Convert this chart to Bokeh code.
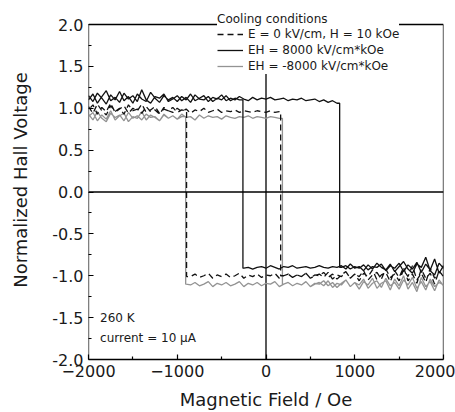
from bokeh.plotting import figure
from bokeh.models import (Range1d, FixedTicker, Span, Legend, LegendItem,
                          Label, PrintfTickFormatter)
from bokeh.embed import file_html
from bokeh.resources import INLINE

# ---------------- data ----------------
field = list(range(-2000, 2001, 50))  # Oe, 81 points

# EH = 8000 kV/cm*kOe (black solid)
ehp_hc_down = 830
ehp_hc_up = -260
ehp_fwd_upper = [1.15, 1.08, 1.18, 1.12, 1.05, 1.16, 1.10, 1.20, 1.09, 1.14,
                 1.06, 1.17, 1.11, 1.08, 1.19, 1.12, 1.07, 1.15, 1.10, 1.13,
                 1.08, 1.14, 1.10, 1.17, 1.09, 1.12, 1.15, 1.08, 1.13, 1.11,
                 1.16, 1.09, 1.12, 1.10, 1.14, 1.11, 1.09, 1.13, 1.10, 1.12,
                 1.11, 1.13, 1.10, 1.11, 1.12, 1.09, 1.11, 1.10, 1.12, 1.09,
                 1.10, 1.11, 1.08, 1.10, 1.07, 1.09, 1.06]
ehp_fwd_lower = [-0.90, -0.88, -0.92, -0.89, -0.91, -0.87, -0.93, -0.89, -0.90, -0.86,
                 -0.94, -0.88, -0.91, -0.85, -0.95, -0.87, -0.92, -0.84, -0.96, -0.86,
                 -0.93, -0.80, -0.97, -0.88]
ehp_bwd_upper = [1.10, 1.17, 1.06, 1.14, 1.21, 1.09, 1.13, 1.07, 1.18, 1.11,
                 1.15, 1.08, 1.22, 1.10, 1.06, 1.14, 1.12, 1.17, 1.08, 1.11,
                 1.15, 1.09, 1.13, 1.07, 1.16, 1.11, 1.10, 1.14, 1.08, 1.12,
                 1.10, 1.15, 1.09, 1.12, 1.10]
ehp_bwd_lower = [-0.91, -0.90, -0.92, -0.90, -0.89, -0.91, -0.88, -0.90, -0.92, -0.89,
                 -0.90, -0.88, -0.91, -0.90, -0.89, -0.91, -0.90, -0.88, -0.90, -0.91,
                 -0.89, -0.90,
                 -0.88, -0.92, -0.86, -0.91, -0.89, -0.94, -0.87, -0.92, -0.85, -0.90,
                 -0.93, -0.86, -0.95, -0.89, -0.83, -0.92, -0.97, -0.86, -0.90, -0.78,
                 -0.94, -0.99, -0.85, -0.91]

# E = 0 kV/cm, H = 10 kOe (black dashed)
e0_hc_down = 165
e0_hc_up = -895
e0_fwd_upper = [1.02, 0.94, 1.05, 0.97, 0.92, 1.03, 0.96, 1.00, 0.93, 1.04,
                0.97, 0.99, 0.94, 1.02, 0.96, 0.98, 0.93, 1.01, 0.97, 0.95,
                1.00, 0.96, 0.99, 0.94, 0.98, 0.96, 1.00, 0.95, 0.97, 0.99,
                0.95, 0.97, 0.96, 0.98, 0.95, 0.97, 0.96, 0.95, 0.97, 0.96,
                0.95, 0.97, 0.95, 0.96]
e0_fwd_lower = [-1.00, -0.98, -1.02, -0.99, -1.01, -0.97, -1.03, -0.99, -1.00, -0.96,
                -1.02, -0.98, -1.04, -0.99, -0.95, -1.03, -0.98, -1.01, -0.94, -1.05,
                -0.99, -0.96, -1.04, -0.92, -1.02, -0.98, -1.06, -0.93, -1.01, -0.88,
                -1.05, -0.97, -1.08, -0.91, -1.03, -0.95, -1.00]
e0_bwd_upper = [0.98, 1.04, 0.93, 1.01, 0.96, 1.06, 0.95, 0.99, 1.03, 0.94,
                1.00, 0.97, 1.05, 0.95, 0.98, 1.02, 0.94, 0.99, 0.97, 1.01,
                0.95, 0.98, 0.97]
e0_bwd_lower = [-1.01, -0.98, -1.02, -1.00, -0.97, -1.03, -0.99, -1.01, -0.98, -1.02,
                -1.00, -0.97, -1.03, -0.99, -1.01, -0.98, -1.02, -0.99, -1.00, -0.97,
                -1.03, -1.00, -0.98, -1.02, -0.99, -1.01, -0.97, -1.03, -1.00, -0.98,
                -1.02, -0.96, -1.04, -0.99, -1.01, -0.95, -1.03, -0.98, -1.06, -0.97,
                -1.01, -0.93, -1.05, -0.99, -0.96, -1.07, -0.94, -1.02, -0.90, -1.06,
                -0.98, -1.09, -0.92, -1.03, -0.97, -1.10, -0.94, -1.01]

# EH = -8000 kV/cm*kOe (grey)
ehn_hc_down = 185
ehn_hc_up = -905
ehn_fwd_upper = [0.93, 0.86, 0.96, 0.88, 0.84, 0.94, 0.89, 0.92, 0.85, 0.95,
                 0.88, 0.91, 0.86, 0.93, 0.89, 0.90, 0.85, 0.92, 0.88, 0.91,
                 0.87, 0.93, 0.89, 0.90, 0.86, 0.92, 0.88, 0.91, 0.89, 0.90,
                 0.87, 0.91, 0.89, 0.88, 0.90, 0.89, 0.91, 0.88, 0.90, 0.89,
                 0.88, 0.90, 0.89, 0.88]
ehn_fwd_lower = [-1.10, -1.08, -1.12, -1.09, -1.11, -1.07, -1.13, -1.09, -1.10, -1.06,
                 -1.12, -1.08, -1.14, -1.09, -1.05, -1.13, -1.08, -1.11, -1.04, -1.15,
                 -1.09, -1.06, -1.14, -1.03, -1.12, -1.08, -1.16, -1.05, -1.11, -1.02,
                 -1.15, -1.07, -1.17, -1.04, -1.13, -1.08, -1.11]
ehn_bwd_upper = [0.90, 0.95, 0.85, 0.92, 0.87, 0.97, 0.86, 0.91, 0.94, 0.84,
                 0.90, 0.88, 0.96, 0.86, 0.92, 0.89, 0.85, 0.93, 0.88, 0.91,
                 0.87, 0.90]
ehn_bwd_lower = [-1.10, -1.11, -1.08, -1.12, -1.10, -1.07, -1.13, -1.09, -1.11, -1.08,
                 -1.12, -1.10, -1.07, -1.13, -1.09, -1.11, -1.08, -1.12, -1.09, -1.10,
                 -1.07, -1.13, -1.10, -1.08, -1.12, -1.09, -1.11, -1.07, -1.13, -1.10,
                 -1.08, -1.12, -1.06, -1.14, -1.09, -1.11, -1.05, -1.13, -1.08, -1.16,
                 -1.07, -1.11, -1.03, -1.15, -1.09, -1.06, -1.17, -1.04, -1.12, -1.00,
                 -1.16, -1.08, -1.19, -1.02, -1.13, -1.07, -1.18, -1.05, -1.12]

series_labels = ["E = 0 kV/cm, H = 10 kOe", "EH = 8000 kV/cm*kOe", "EH = -8000 kV/cm*kOe"]
x_ticks = [-2000, -1000, 0, 1000, 2000]
x_minor_ticks = [-1500, -500, 500, 1500]
y_ticks = [-2.0, -1.5, -1.0, -0.5, 0.0, 0.5, 1.0, 1.5, 2.0]
y_minor_ticks = [-1.75, -1.25, -0.75, -0.25, 0.25, 0.75, 1.25, 1.75]
X_MIN, X_MAX = -2000, 2000
Y_MIN, Y_MAX = -2.0, 2.0


def loop(fwd, bwd, hc_down, hc_up):
    """Forward sweep (-H -> +H) then backward sweep (+H -> -H), with vertical switching steps."""
    xs, ys = [], []
    n = len(field)
    for i in range(n):
        if i > 0 and field[i - 1] < hc_down <= field[i]:
            xs += [hc_down, hc_down]
            ys += [fwd[i - 1], fwd[i]]
        xs.append(field[i])
        ys.append(fwd[i])
    for i in range(n - 1, -1, -1):
        if i < n - 1 and field[i] < hc_up <= field[i + 1]:
            xs += [hc_up, hc_up]
            ys += [bwd[i + 1], bwd[i]]
        xs.append(field[i])
        ys.append(bwd[i])
    return xs, ys


ehp_x, ehp_y = loop(ehp_fwd_upper + ehp_fwd_lower, ehp_bwd_upper + ehp_bwd_lower, ehp_hc_down, ehp_hc_up)
e0_x, e0_y = loop(e0_fwd_upper + e0_fwd_lower, e0_bwd_upper + e0_bwd_lower, e0_hc_down, e0_hc_up)
ehn_x, ehn_y = loop(ehn_fwd_upper + ehn_fwd_lower, ehn_bwd_upper + ehn_bwd_lower, ehn_hc_down, ehn_hc_up)

# ---------------- figure ----------------
FONT = "DejaVu Sans"
TXT = "#1a1a1a"
FRAME_W = 1.3

# Frame extends a little above y=2.0 (room for the legend, which overlaps the top border)
TOP_PX = 24.0          # pixels between canvas top and the y=2.0 line
PLOT_H_PX = 335.0      # pixels between y=-2 and y=2
y_top = Y_MAX + (Y_MAX - Y_MIN) * TOP_PX / PLOT_H_PX

p = figure(width=455, height=412, output_backend="svg", toolbar_location=None,
           x_range=Range1d(X_MIN, X_MAX), y_range=Range1d(Y_MIN, y_top),
           min_border_left=88, min_border_right=12, min_border_top=0, min_border_bottom=53)
p.background_fill_color = "white"
p.border_fill_color = "white"
p.outline_line_color = None
p.xgrid.visible = False
p.ygrid.visible = False

p.xaxis.ticker = FixedTicker(ticks=x_ticks, minor_ticks=x_minor_ticks)
p.yaxis.ticker = FixedTicker(ticks=y_ticks, minor_ticks=y_minor_ticks)
p.yaxis.formatter = PrintfTickFormatter(format="%.1f")
for ax in (p.xaxis[0], p.yaxis[0]):
    ax.axis_line_color = "black"
    ax.axis_line_width = FRAME_W
    ax.major_tick_in = 5
    ax.major_tick_out = 0
    ax.minor_tick_in = 3
    ax.minor_tick_out = 0
    ax.major_tick_line_color = "black"
    ax.minor_tick_line_color = "black"
    ax.major_tick_line_width = 1.2
    ax.minor_tick_line_width = 1.2
    ax.major_label_text_font = FONT
    ax.major_label_text_font_size = "16px"
    ax.major_label_text_color = TXT
    ax.major_label_standoff = 5
    ax.axis_label_text_font = FONT
    ax.axis_label_text_font_size = "18px"
    ax.axis_label_text_font_style = "normal"
    ax.axis_label_text_color = TXT
p.yaxis.axis_line_color = None   # drawn below so it stops at y=2.0
p.xaxis.axis_label = "Magnetic Field / Oe"
p.yaxis.axis_label = "Normalized Hall Voltage"
p.xaxis.axis_label_standoff = 9
p.yaxis.axis_label_standoff = 18

# frame borders (left, right), the x=0 axis line, top border and y=0 line
p.segment(x0=[X_MIN, X_MAX, 0], y0=[Y_MIN, Y_MIN, Y_MIN], x1=[X_MIN, X_MAX, 0], y1=[Y_MAX, Y_MAX, Y_MAX],
          line_color="black", line_width=FRAME_W)
p.add_layout(Span(location=Y_MAX, dimension="width", line_color="black", line_width=FRAME_W))
p.add_layout(Span(location=0, dimension="width", line_color="black", line_width=FRAME_W))

r_gray = p.line(ehn_x, ehn_y, line_color="#939393", line_width=1.3)
r_dash = p.line(e0_x, e0_y, line_color="#111111", line_width=1.3, line_dash="6 4")
r_black = p.line(ehp_x, ehp_y, line_color="#111111", line_width=1.3)

p.add_layout(Label(x=-1870, y=-1.51, text="260 K", text_baseline="middle",
                   text_font=FONT, text_font_size="12px", text_color=TXT))
p.add_layout(Label(x=-1870, y=-1.74, text="current = 10 \u03bcA", text_baseline="middle",
                   text_font=FONT, text_font_size="12px", text_color=TXT))

legend = Legend(
    items=[LegendItem(label=series_labels[0], renderers=[r_dash]),
           LegendItem(label=series_labels[1], renderers=[r_black]),
           LegendItem(label=series_labels[2], renderers=[r_gray])],
    title="Cooling conditions",
    location=(129, 285),
    padding=12, margin=0, spacing=0,
    glyph_width=26, glyph_height=16, label_height=16, label_standoff=5, label_width=140,
    title_standoff=0,
    background_fill_color="white", background_fill_alpha=1.0,
    border_line_color=None,
    label_text_font=FONT, label_text_font_size="12px", label_text_color=TXT,
    title_text_font=FONT, title_text_font_size="12px", title_text_font_style="normal",
    title_text_color=TXT,
)
p.add_layout(legend)

open("out.html", "w").write(file_html(p, INLINE))
